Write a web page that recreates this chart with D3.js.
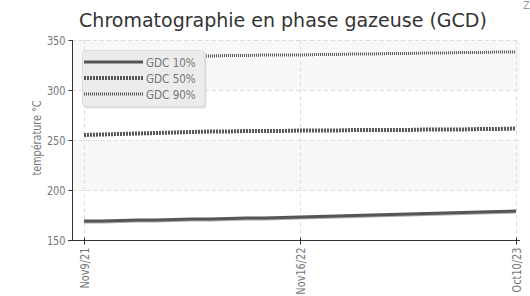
<!DOCTYPE html>
<html>
<head>
<meta charset="utf-8">
<script src="https://cdn.jsdelivr.net/npm/d3@7"></script>
<style>
  body { margin: 0; background: #fff; }
  svg { display: block; }
  .narrow, .tick text { font-family: "DejaVu Sans", sans-serif; }
  .tick text { font-size: 13px; fill: #777; }
</style>
</head>
<body>
<div id="chart"></div>
<script>
const width = 530
const height = 296

// sample dates (only first, middle and last are labelled)
const dates = ["Nov9/21", "Dec7/21", "Jan11/22", "Feb8/22", "Mar8/22", "Apr12/22", "May10/22", "Jun7/22",
  "Jul12/22", "Aug9/22", "Sep13/22", "Oct11/22", "Nov16/22", "Dec13/22", "Jan10/23", "Feb7/23",
  "Mar14/23", "Apr11/23", "May9/23", "Jun6/23", "Jul11/23", "Aug8/23", "Sep5/23", "Sep26/23", "Oct10/23"]
const gdc10 = [169, 169, 169.5, 170, 170, 170.5, 171, 171, 171.5, 172, 172, 172.5, 173,
  173.5, 174, 174.5, 175, 175.5, 176, 176.5, 177, 177.5, 178, 178.5, 179]
const gdc50 = [255, 255.5, 256, 256.5, 257, 257.5, 258, 258.5, 258.5, 259, 259, 259, 259.5,
  259.5, 259.5, 260, 260, 260, 260, 260.5, 260.5, 260.5, 261, 261, 261.5]
const gdc90 = [332, 332.5, 333, 333, 333.5, 333.5, 334, 334, 334.5, 334.5, 335, 335, 335,
  335.5, 335.5, 336, 336, 336.5, 336.5, 337, 337, 337.5, 337.5, 338, 338]
const yTicks = [150, 200, 250, 300, 350]
const seriesNames = ["GDC 10%", "GDC 50%", "GDC 90%"]

// squeeze text horizontally, the chart uses a narrow font
function condense(sel, f) {
  sel.each(function() {
    const len = this.getComputedTextLength()
    d3.select(this).attr("textLength", len * f).attr("lengthAdjust", "spacingAndGlyphs")
  })
}

const svg = d3.select("#chart")
  .append("svg")
  .attr("width", width)
  .attr("height", height)

const mLeft = 72, mRight = 520, mTop = 40, mBottom = 240

const x = d3.scaleLinear().domain([0, dates.length - 1]).range([84, 516])
const y = d3.scaleLinear().domain([150, 350]).range([mBottom, mTop])

// title
svg.append("text")
  .attr("x", 283)
  .attr("y", 27)
  .attr("text-anchor", "middle")
  .style("font-family", '"DejaVu Sans", Verdana, sans-serif')
  .style("font-size", "19px")
  .style("fill", "#333")
  .text("Chromatographie en phase gazeuse (GCD)")

svg.append("text")
  .attr("class", "narrow")
  .attr("x", 523)
  .attr("y", 9)
  .style("font-size", "10px")
  .style("fill", "#999")
  .text("Z")

// alternating bands
const bands = [[300, 350], [200, 250]]
svg.selectAll("rect.band")
  .data(bands)
  .enter()
  .append("rect")
  .attr("class", "band")
  .attr("x", mLeft)
  .attr("y", d => y(d[1]))
  .attr("width", mRight - mLeft)
  .attr("height", d => y(d[0]) - y(d[1]))
  .attr("fill", "#f8f8f8")

// grid
svg.selectAll("line.hgrid")
  .data(yTicks.slice(1))
  .enter()
  .append("line")
  .attr("class", "hgrid")
  .attr("x1", mLeft)
  .attr("x2", mRight)
  .attr("y1", d => y(d) + 0.5)
  .attr("y2", d => y(d) + 0.5)
  .attr("stroke", "#ddd")
  .attr("stroke-dasharray", "4,3")

const xTickIdx = [0, 12, 24]
svg.selectAll("line.vgrid")
  .data(xTickIdx)
  .enter()
  .append("line")
  .attr("class", "vgrid")
  .attr("x1", d => Math.round(x(d)) + 0.5)
  .attr("x2", d => Math.round(x(d)) + 0.5)
  .attr("y1", mTop)
  .attr("y2", mBottom)
  .attr("stroke", "#ddd")
  .attr("stroke-dasharray", "4,3")

// axes
const yAxis = svg.append("g")
  .attr("transform", `translate(${mLeft + 0.5},0)`)
  .call(d3.axisLeft(y).tickValues(yTicks).tickSize(4).tickPadding(3))
yAxis.select(".domain").attr("stroke", "#333").attr("d", `M0,${mTop}V${mBottom}`)
yAxis.selectAll(".tick line").attr("stroke", "#333")
yAxis.selectAll(".tick text").call(condense, 0.75)

const xAxis = svg.append("g")
  .attr("transform", `translate(0,${mBottom + 0.5})`)
  .call(d3.axisBottom(x).tickValues(xTickIdx).tickFormat(i => dates[i]).tickSize(4))
xAxis.select(".domain").attr("stroke", "#333").attr("d", `M${mLeft - 4},0H${mRight}`)
xAxis.selectAll(".tick line").attr("stroke", "#333").attr("y1", -3)
xAxis.selectAll(".tick text")
  .attr("transform", "rotate(-90)")
  .attr("text-anchor", "end")
  .attr("x", -7)
  .attr("y", 0)
  .attr("dy", "0.35em")
  .call(condense, 0.75)

svg.append("text")
  .attr("class", "narrow")
  .attr("transform", "translate(41,138) rotate(-90)")
  .attr("text-anchor", "middle")
  .style("font-size", "12px")
  .style("fill", "#777")
  .text("température °C")
  .call(condense, 0.8)

// lines
const line = d3.line().x((d, i) => x(i)).y(d => y(d))
const styles = [
  { w: 3, dash: null, color: "#555" },
  { w: 4, dash: "2,1", color: "#555" },
  { w: 3, dash: "1,1", color: "#555" }
]
const series = [gdc10, gdc50, gdc90]

// light underline under the solid series
svg.append("path")
  .attr("d", line(gdc10))
  .attr("transform", "translate(0,1.5)")
  .attr("fill", "none")
  .attr("stroke", "#aaa")
  .attr("stroke-width", 2)

series.forEach((s, k) => {
  svg.append("path")
    .attr("d", line(s))
    .attr("fill", "none")
    .attr("stroke", styles[k].color)
    .attr("stroke-width", styles[k].w)
    .attr("stroke-dasharray", styles[k].dash)
})

// legend
const legend = svg.append("g").attr("transform", "translate(82,50)")
legend.append("rect")
  .attr("x", 1.5).attr("y", 1.5)
  .attr("width", 123).attr("height", 57)
  .attr("rx", 4)
  .attr("fill", "#ccc")
  .attr("opacity", 0.6)
legend.append("rect")
  .attr("x", 0.5).attr("y", 0.5)
  .attr("width", 122).attr("height", 56)
  .attr("rx", 4)
  .attr("fill", "#ececec")
  .attr("stroke", "#ddd")

seriesNames.forEach((name, k) => {
  const ly = 12 + k * 16
  legend.append("line")
    .attr("x1", 2).attr("x2", 61)
    .attr("y1", ly).attr("y2", ly)
    .attr("stroke", styles[k].color)
    .attr("stroke-width", styles[k].w)
    .attr("stroke-dasharray", styles[k].dash)
  legend.append("text")
    .attr("class", "narrow")
    .attr("x", 64)
    .attr("y", ly + 5)
    .style("font-size", "13px")
    .style("fill", "#777")
    .text(name)
    .call(condense, 0.8)
})
</script>
</body>
</html>
